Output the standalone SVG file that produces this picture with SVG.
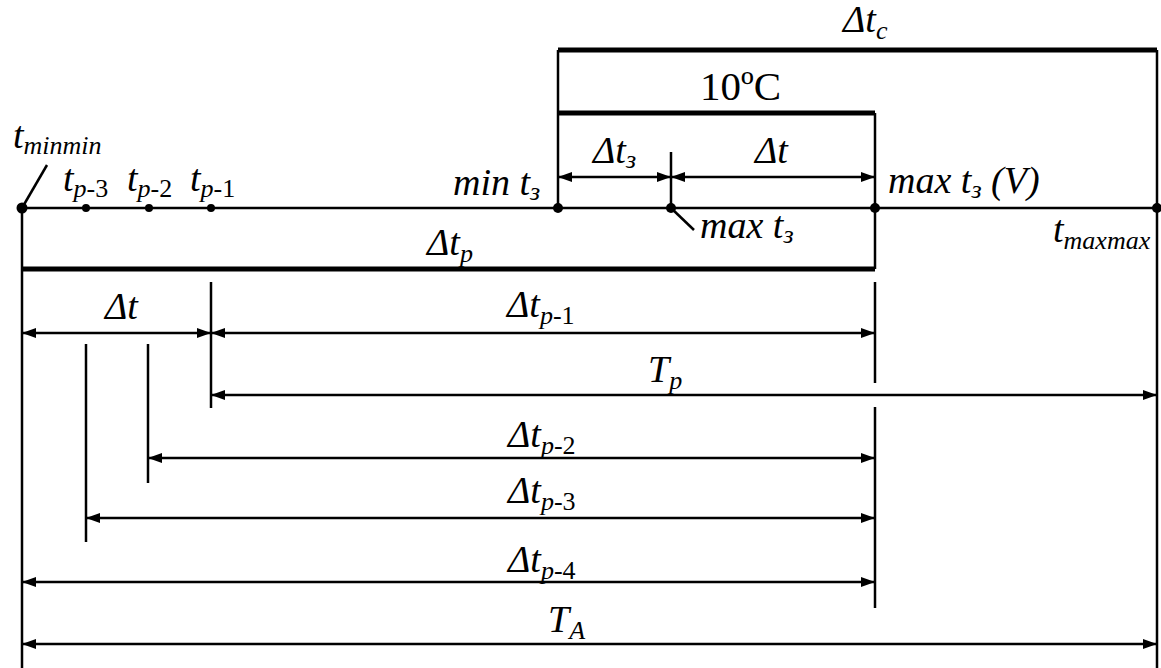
<svg xmlns="http://www.w3.org/2000/svg" width="1161" height="668" viewBox="0 0 1161 668">
<style>
  .ln{stroke:#000;stroke-width:2.5;fill:none}
  .thick{stroke:#000;stroke-width:5;fill:none}
  .arr{stroke:#000;stroke-width:2.5;fill:none;marker-start:url(#ah);marker-end:url(#ah)}
  .t{font-family:'Liberation Serif','DejaVu Serif',serif;font-style:italic;font-size:38px;fill:#000}
  .up{font-style:normal}
  .s{font-size:26px}
  .dot{fill:#000}
</style>
<defs>
  <marker id="ah" viewBox="0 0 14 10" refX="14" refY="5" markerWidth="14" markerHeight="10" markerUnits="userSpaceOnUse" orient="auto-start-reverse">
    <path d="M0,0 L14,5 L0,10 z" fill="#000"/>
  </marker>
</defs>
<rect width="1161" height="668" fill="#fff"/>

<g id="connectors">
  <line class="ln" x1="22" y1="208" x2="1157" y2="208"/>
  <line class="ln" x1="22" y1="208" x2="22" y2="668"/>
  <line class="ln" x1="1157" y1="50" x2="1157" y2="668"/>
  <line class="ln" x1="558" y1="50" x2="558" y2="208"/>
  <line class="ln" x1="875" y1="113" x2="875" y2="269"/>
  <line class="ln" x1="875" y1="282" x2="875" y2="383"/>
  <line class="ln" x1="875" y1="407" x2="875" y2="608"/>
  <line class="ln" x1="671" y1="152" x2="671" y2="208"/>
  <line class="ln" x1="211" y1="282" x2="211" y2="408"/>
  <line class="ln" x1="148" y1="344" x2="148" y2="483"/>
  <line class="ln" x1="86" y1="344" x2="86" y2="542"/>
  <line class="ln" x1="22" y1="208" x2="47" y2="165" stroke-width="2"/>
  <line class="ln" x1="671" y1="208" x2="694" y2="230" stroke-width="2"/>
  <line class="thick" x1="558" y1="50" x2="1157" y2="50"/>
  <line class="thick" x1="558" y1="113" x2="875" y2="113"/>
  <line class="thick" x1="22" y1="269" x2="875" y2="269"/>
  <line class="arr" x1="558" y1="177" x2="671" y2="177"/>
  <line class="arr" x1="671" y1="177" x2="875" y2="177"/>
  <line class="arr" x1="22" y1="333" x2="211" y2="333"/>
  <line class="arr" x1="211" y1="333" x2="875" y2="333"/>
  <line class="arr" x1="211" y1="395" x2="1157" y2="395"/>
  <line class="arr" x1="148" y1="458" x2="875" y2="458"/>
  <line class="arr" x1="86" y1="518" x2="875" y2="518"/>
  <line class="arr" x1="22" y1="582" x2="875" y2="582"/>
  <line class="arr" x1="22" y1="644" x2="1157" y2="644"/>
</g>

<g id="points">
  <g id="p-tminmin"><circle class="dot" cx="22" cy="208" r="5.5"/><text class="t" x="13" y="148">t<tspan class="s" dy="6">minmin</tspan></text></g>
  <g id="p-tp3"><circle class="dot" cx="86" cy="208" r="4"/><text class="t" x="63" y="191">t<tspan class="s" dy="6">p<tspan class="up">-3</tspan></tspan></text></g>
  <g id="p-tp2"><circle class="dot" cx="149" cy="208" r="4"/><text class="t" x="127" y="191">t<tspan class="s" dy="6">p<tspan class="up">-2</tspan></tspan></text></g>
  <g id="p-tp1"><circle class="dot" cx="211" cy="208" r="4"/><text class="t" x="190" y="191">t<tspan class="s" dy="6">p<tspan class="up">-1</tspan></tspan></text></g>
  <g id="p-mint3"><circle class="dot" cx="558" cy="208" r="5"/><text class="t" x="453" y="195">min t<tspan class="s" dy="5">з</tspan></text></g>
  <g id="p-maxt3"><circle class="dot" cx="671" cy="208" r="5"/><text class="t" x="700" y="238">max t<tspan class="s" dy="5">з</tspan></text></g>
  <g id="p-maxt3V"><circle class="dot" cx="875" cy="208" r="5"/><text class="t" x="888" y="193">max t<tspan class="s" dy="5">з</tspan><tspan dy="-5"> (V)</tspan></text></g>
  <g id="p-tmaxmax"><circle class="dot" cx="1157" cy="208" r="5"/><text class="t" x="1053" y="242">t<tspan class="s" dy="7">maxmax</tspan></text></g>
</g>

<g id="labels">
  <g id="l-dtc"><text class="t" x="843" y="32">Δt<tspan class="s" dy="7">c</tspan></text></g>
  <g id="l-10C"><text class="t up" x="700" y="100" style="font-size:41px">10ºC</text></g>
  <g id="l-dt3"><text class="t" x="593" y="163">Δt<tspan class="s" dy="5">з</tspan></text></g>
  <g id="l-dt-up"><text class="t" x="755" y="163">Δt</text></g>
  <g id="l-dtp"><text class="t" x="427" y="255">Δt<tspan class="s" dy="7">p</tspan></text></g>
  <g id="l-dt-low"><text class="t" x="105" y="319">Δt</text></g>
  <g id="l-dtp1"><text class="t" x="507" y="317">Δt<tspan class="s" dy="7">p<tspan class="up">-1</tspan></tspan></text></g>
  <g id="l-Tp"><text class="t" x="648" y="382">T<tspan class="s" dy="7">p</tspan></text></g>
  <g id="l-dtp2"><text class="t" x="508" y="447">Δt<tspan class="s" dy="7">p<tspan class="up">-2</tspan></tspan></text></g>
  <g id="l-dtp3"><text class="t" x="508" y="503">Δt<tspan class="s" dy="7">p<tspan class="up">-3</tspan></tspan></text></g>
  <g id="l-dtp4"><text class="t" x="508" y="572">Δt<tspan class="s" dy="7">p<tspan class="up">-4</tspan></tspan></text></g>
  <g id="l-TA"><text class="t" x="548" y="632">T<tspan class="s" dy="7">A</tspan></text></g>
</g>
</svg>
